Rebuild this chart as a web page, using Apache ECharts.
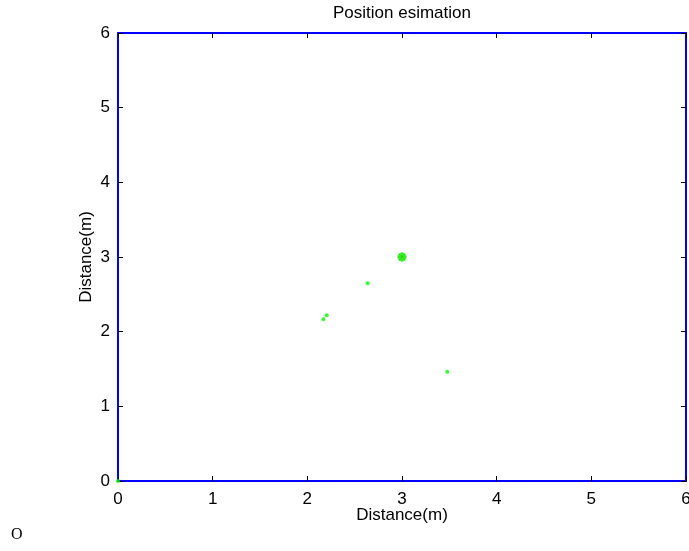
<!DOCTYPE html>
<html>
<head>
<meta charset="utf-8">
<script src="https://cdn.jsdelivr.net/npm/echarts@6/dist/echarts.min.js"></script>
<style>
html,body{margin:0;padding:0;background:#fff;}
#chart{width:689px;height:551px;}
</style>
</head>
<body>
<div id="chart"></div>
<script>
// Data
const titleText = "Position esimation";
const xLabel = "Distance(m)";
const yLabel = "Distance(m)";
const axisMin = 0, axisMax = 6, axisStep = 1;
const truePosition = [[3, 3]];
const convergedEstimate = [[3, 3]];
const estimates = [[2.637, 2.648], [2.205, 2.219], [2.170, 2.165], [3.478, 1.464], [0, 0]];

const FONT = '"Liberation Sans", Arial, Helvetica, sans-serif';
const FS = 17;
const chart = echarts.init(document.getElementById('chart'));
const asterisk = 'path://M5,0 L5,10 M0,5 L10,5 M1.5,1.5 L8.5,8.5 M8.5,1.5 L1.5,8.5';

const baseAxis = {
  min: axisMin, max: axisMax, interval: axisStep,
  axisLine: {show: true, onZero: false, lineStyle: {color: '#0000ff', width: 2}},
  axisTick: {show: true, inside: true, length: 5, lineStyle: {color: '#000', width: 1}},
  splitLine: {show: false}
};

chart.setOption({
  animation: false,
  backgroundColor: '#fff',
  grid: {left: 118, right: 3, top: 33, bottom: 70, outerBoundsMode: 'none', containLabel: false},
  xAxis: [
    Object.assign({}, baseAxis, {
      type: 'value', position: 'bottom',
      name: xLabel, nameLocation: 'middle', nameGap: 26, nameMoveOverlap: false,
      nameTextStyle: {fontFamily: FONT, fontSize: FS, color: '#000'},
      axisLabel: {show: true, margin: 10, fontFamily: FONT, fontSize: FS, color: '#000'}
    }),
    Object.assign({}, baseAxis, {type: 'value', position: 'top', axisLabel: {show: false}})
  ],
  yAxis: [
    Object.assign({}, baseAxis, {
      type: 'value', position: 'left',
      name: yLabel, nameLocation: 'middle', nameGap: 23, nameMoveOverlap: false,
      nameTextStyle: {fontFamily: FONT, fontSize: FS, color: '#000'},
      axisLabel: {show: true, margin: 8, fontFamily: FONT, fontSize: FS, color: '#000'}
    }),
    Object.assign({}, baseAxis, {type: 'value', position: 'right', axisLabel: {show: false}})
  ],
  series: [
    {
      type: 'scatter', data: truePosition, symbol: asterisk, symbolSize: 9,
      itemStyle: {color: 'none', borderColor: '#ff0000', borderWidth: 1}, z: 3, clip: false
    },
    {
      type: 'scatter', data: convergedEstimate, symbol: 'circle', symbolSize: 9,
      itemStyle: {color: '#00ff00'}, z: 4, clip: false
    },
    {
      type: 'scatter', data: estimates, symbol: 'circle', symbolSize: 4,
      itemStyle: {color: '#00ff00'}, z: 10, clip: false
    }
  ],
  graphic: [
    {
      type: 'text', x: 402, y: 13,
      style: {text: titleText, font: FS + 'px ' + FONT, fill: '#000', align: 'center', verticalAlign: 'middle'}
    },
    {
      type: 'text', left: 11, top: 527,
      style: {text: 'O', font: '16px "Liberation Serif", "Times New Roman", serif', fill: '#000'}
    }
  ]
});
</script>
</body>
</html>
